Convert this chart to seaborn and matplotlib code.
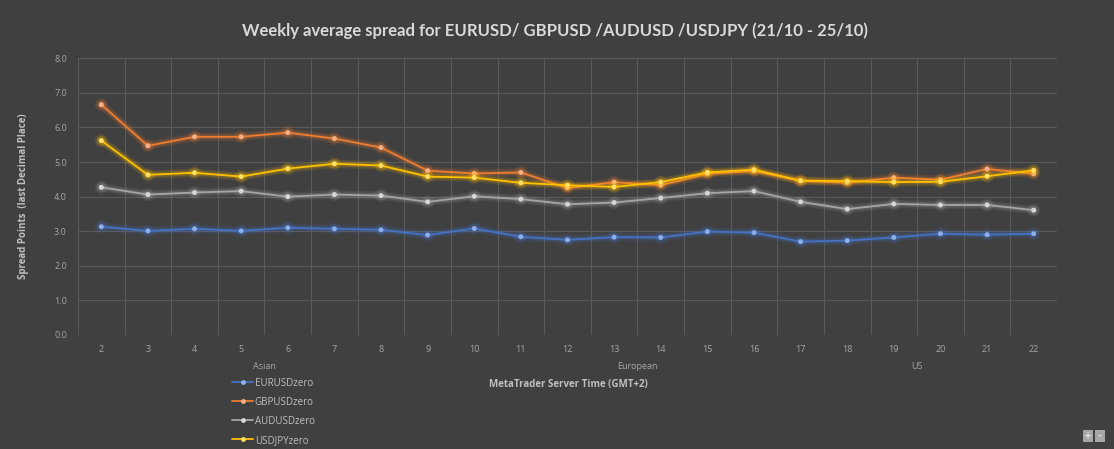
import numpy as np
import pandas as pd
import matplotlib
matplotlib.use("Agg")
import matplotlib.pyplot as plt
import matplotlib.patheffects as pe
import seaborn as sns

hours = list(range(2, 23))
eurusd = [3.13, 3.01, 3.07, 3.01, 3.10, 3.07, 3.04, 2.89, 3.08, 2.84, 2.75,
          2.83, 2.82, 2.99, 2.96, 2.70, 2.73, 2.82, 2.93, 2.90, 2.93]
gbpusd = [6.66, 5.47, 5.73, 5.73, 5.85, 5.68, 5.42, 4.75, 4.67, 4.70, 4.25,
          4.42, 4.33, 4.66, 4.74, 4.46, 4.40, 4.55, 4.49, 4.80, 4.66]
audusd = [4.27, 4.06, 4.12, 4.16, 4.00, 4.06, 4.03, 3.85, 4.01, 3.93, 3.78,
          3.83, 3.96, 4.10, 4.16, 3.85, 3.64, 3.79, 3.76, 3.76, 3.61]
usdjpy = [5.62, 4.63, 4.69, 4.58, 4.81, 4.95, 4.90, 4.58, 4.55, 4.40, 4.33,
          4.28, 4.42, 4.70, 4.78, 4.46, 4.45, 4.42, 4.43, 4.59, 4.76]
series_names = ["EURUSDzero", "GBPUSDzero", "AUDUSDzero", "USDJPYzero"]
sessions = {"Asian": 5.5, "European": 13.5, "US": 19.5}

colors = ["#4472C4", "#ED7D31", "#A5A5A5", "#FFC000"]
marker_colors = ["#8FAEE8", "#F5B08A", "#D6D6D6", "#FFE066"]
bg = "#404040"
txt = "#BFBFBF"
small = ['Open Sans', 'DejaVu Sans']

df = pd.DataFrame({"hour": hours * 4,
                   "value": eurusd + gbpusd + audusd + usdjpy,
                   "series": sum([[n] * len(hours) for n in series_names], [])})
df["x"] = df["hour"] - 2

sns.set_theme(style="dark")
plt.rcParams['font.family'] = small

fig = plt.figure(figsize=(11.14, 4.49), dpi=100, facecolor=bg)
ax = fig.add_axes([78 / 1114, 1 - 335 / 449, (1057 - 78) / 1114, (335 - 58.3) / 449])
ax.set_facecolor(bg)

sns.lineplot(data=df, x="x", y="value", hue="series", palette=colors,
             hue_order=series_names, marker="o", markersize=3.5, linewidth=1.3,
             markeredgewidth=0, legend=False, ax=ax)

for line, c, mc in zip(ax.get_lines(), colors, marker_colors):
    line.set_markerfacecolor(mc)
    line.set_path_effects([pe.Stroke(linewidth=6, foreground=c, alpha=0.12),
                           pe.Stroke(linewidth=3.5, foreground=c, alpha=0.2),
                           pe.Normal()])

ax.set_xlim(-0.5, len(hours) - 0.5)
ax.set_ylim(0, 8)
ax.set_yticks(np.arange(0, 8.1, 1.0))
ax.set_yticklabels([f"{v:.1f}" for v in np.arange(0, 8.1, 1.0)])
ax.set_xticks(range(len(hours)))
ax.set_xticklabels([str(h) for h in hours])
ax.set_xticks(np.arange(-0.5, len(hours), 1.0), minor=True)
ax.grid(False)
ax.grid(True, which="minor", axis="x", color="#5A5A5A", linewidth=0.8)
ax.grid(True, which="major", axis="y", color="#5A5A5A", linewidth=0.8)
ax.tick_params(axis="both", which="both", length=0, colors="#A6A6A6", labelsize=6.5)
ax.tick_params(axis="x", pad=7)
ax.tick_params(axis="y", pad=8)
for s in ax.spines.values():
    s.set_visible(False)

ax.set_xlabel("")
ax.set_ylabel("Spread Points  (last Decimal Place)", color=txt, fontsize=7,
              fontweight="bold", labelpad=18)

for name, pos in sessions.items():
    ax.text(pos - 2, -0.9, name, transform=ax.transData, ha="center",
            va="center", fontsize=6.5, color="#A6A6A6", clip_on=False)

fig.text(568 / 1114, 1 - 384 / 449, "MetaTrader Server Time (GMT+2)", ha="center",
         va="center", fontsize=7, fontweight="bold", color=txt)
fig.suptitle("Weekly average spread for EURUSD/ GBPUSD /AUDUSD /USDJPY (21/10 - 25/10)",
             x=555 / 1114, y=1 - 31 / 449, va="center", fontsize=12,
             fontweight="bold", color="#D9D9D9", family=['Lato', 'DejaVu Sans'])

handles = ax.get_lines()[:4]
leg = fig.legend(handles, series_names, loc="upper left",
                 bbox_to_anchor=(228 / 1114, 1 - 374 / 449), frameon=False,
                 fontsize=7, labelcolor="#BFBFBF", handlelength=2.2,
                 handletextpad=0.15, labelspacing=0.82, borderaxespad=0)
for h in leg.legend_handles:
    h.set_path_effects([])

# zoom buttons bottom right
for bx, sym in [(1083, "+"), (1095, "-")]:
    fig.patches.append(plt.Rectangle((bx / 1114, 1 - 442 / 449), 10 / 1114, 12 / 449,
                                     transform=fig.transFigure, facecolor="#A6A6A6",
                                     edgecolor="none"))
    fig.text((bx + 5) / 1114, 1 - 436 / 449, sym, ha="center", va="center",
             fontsize=7, color="#E0E0E0", fontweight="bold", family="DejaVu Sans")

fig.savefig("out.png", dpi=100, facecolor=bg)
